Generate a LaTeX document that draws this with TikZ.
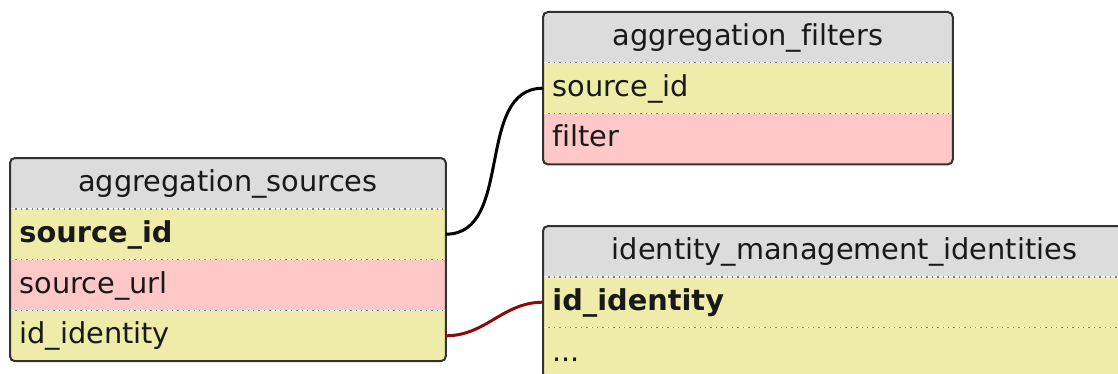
\documentclass[tikz,border=0pt]{standalone}
\usepackage{fontspec}
\setmainfont{DejaVu Sans}[Ligatures=NoCommon]
\usetikzlibrary{positioning,fit}
\definecolor{headgray}{RGB}{220,220,220}
\definecolor{colyellow}{RGB}{238,236,168}
\definecolor{colpink}{RGB}{255,200,200}
\definecolor{framegray}{RGB}{50,50,50}
\definecolor{linkred}{RGB}{140,10,10}
\definecolor{txt}{RGB}{25,25,25}
\tikzset{basic/.style={inner sep=0pt, text=txt,
                       font=\fontsize{14.4}{17}\selectfont}}
\tikzset{cell/.style={basic, minimum height=25pt, inner xsep=4.5pt,
                      text width=#1, align=left,
                      text height=11pt, text depth=3pt}}

\begin{document}
\begin{tikzpicture}[x=0.5pt,y=-0.5pt,
    % styles for the tables
    head/.style  ={basic, fill=headgray, minimum height=25pt,
                   minimum width=#1, text height=11pt, text depth=3pt},
    yrow/.style  ={cell=#1, fill=colyellow},
    prow/.style  ={cell=#1, fill=colpink},
    key/.style   ={font=\fontsize{14.4}{17}\selectfont\bfseries},
    frame/.style ={draw=framegray, line width=1pt, rounded corners=2.5pt,
                   inner sep=0pt},
    sep/.style   ={draw=gray, line width=0.7pt, dotted},
    link/.style  ={line width=1.5pt},
    node distance = 0pt
  ]
    \useasboundingbox (0,0) rectangle (1118,374);

    % aggregation_sources
    \node[head=217.5pt, anchor=north west](src) at (10,158) {aggregation\_sources};
    \node[yrow=208.5pt, key, below=of src](src-id) {source\_id};
    \node[prow=208.5pt, below=of src-id](src-url) {source\_url};
    \node[yrow=208.5pt, below=of src-url](src-idid) {id\_identity};
    \draw[sep] (src-id.north west) -- (src-id.north east);
    \draw[sep] (src-url.north west) -- (src-url.north east);
    \draw[sep] (src-idid.north west) -- (src-idid.north east);
    \node[frame, fit=(src)(src-idid)](src-frame) {};

    % aggregation_filters
    \node[head=204.5pt, anchor=north west](flt) at (543,12) {aggregation\_filters};
    \node[yrow=195.5pt, below=of flt](flt-id) {source\_id};
    \node[prow=195.5pt, below=of flt-id](flt-filter) {filter};
    \draw[sep] (flt-id.north west) -- (flt-id.north east);
    \draw[sep] (flt-filter.north west) -- (flt-filter.north east);
    \node[frame, fit=(flt)(flt-filter)](flt-frame) {};

    % identity_management_identities
    \node[head=301pt, anchor=north west](idm) at (543,226) {identity\_management\_identities};
    \node[yrow=292pt, key, below=of idm](idm-id) {id\_identity};
    \node[yrow=292pt, below=of idm-id](idm-more) {...};
    \draw[sep] (idm-id.north west) -- (idm-id.north east);
    \draw[sep] (idm-more.north west) -- (idm-more.north east);
    \node[frame, fit=(idm)(idm-more)](idm-frame) {};

    % links
    \draw[link, black] (src-id.east) to[out=0, in=180] (flt-id.west);
    \draw[link, linkred] (src-idid.east) to[out=0, in=180] (idm-id.west);
\end{tikzpicture}
\end{document}
